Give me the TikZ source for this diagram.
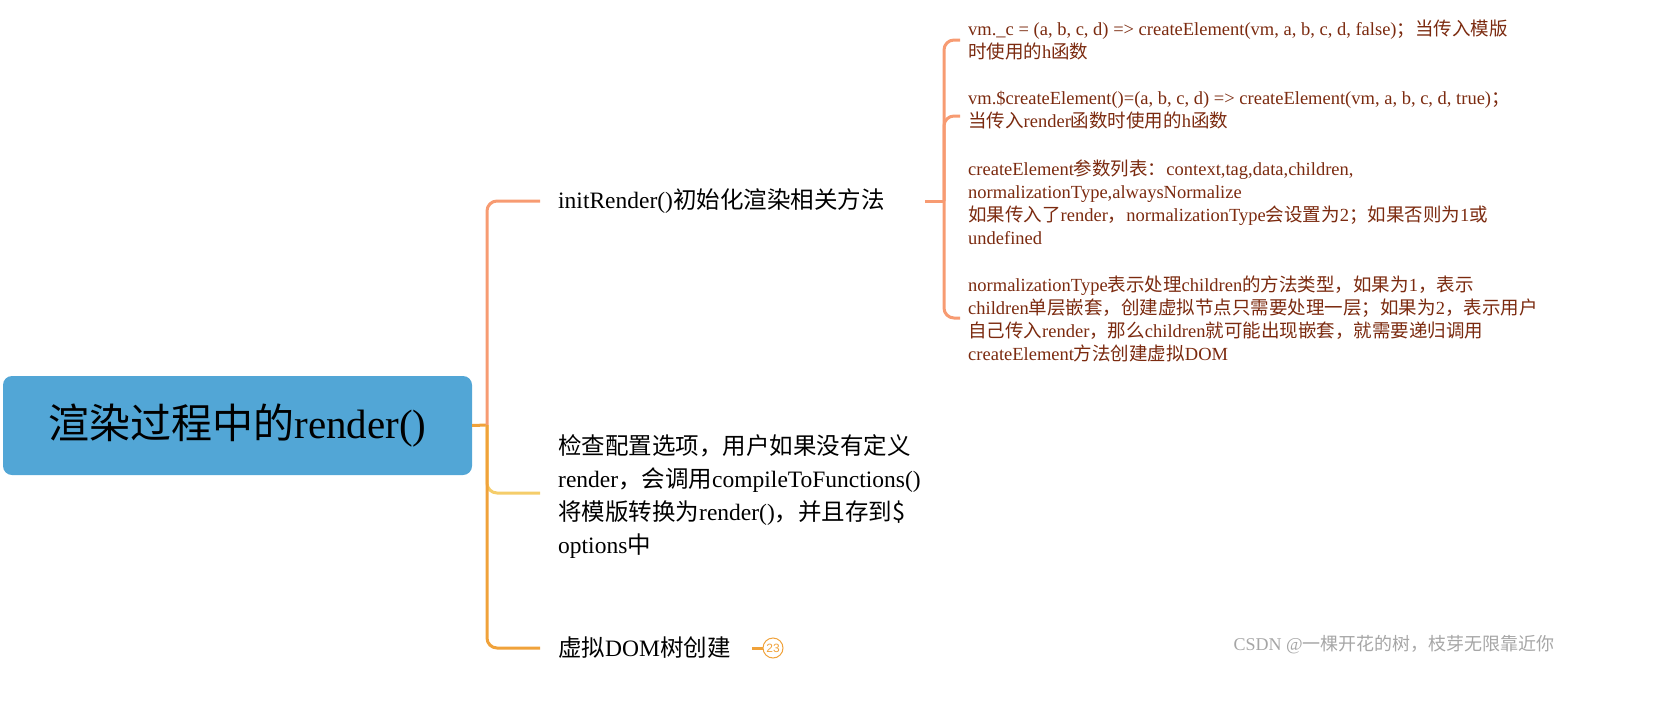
\documentclass[tikz,border=0pt]{standalone}
\usepackage{fontspec}
\setmainfont{Liberation Serif}
\newfontfamily\cjk{Noto Sans CJK SC}
\newfontfamily\latn{Liberation Serif}
\newfontfamily\sans{Liberation Sans}
\XeTeXinterchartokenstate=1
\newXeTeXintercharclass\cjkcls
\makeatletter
\count@="3000
\loop\ifnum\count@<"3040 \XeTeXcharclass\count@=\cjkcls \advance\count@ 1 \repeat
\count@="4E00
\loop\ifnum\count@<"A000 \XeTeXcharclass\count@=\cjkcls \advance\count@ 1 \repeat
\count@="FF00
\loop\ifnum\count@<"FFF0 \XeTeXcharclass\count@=\cjkcls \advance\count@ 1 \repeat
\makeatother
\XeTeXinterchartoks 0 \cjkcls {\cjk}
\XeTeXinterchartoks 4095 \cjkcls {\cjk}
\XeTeXinterchartoks \cjkcls 0 {\latn}
\usetikzlibrary{calc}
\definecolor{rootc}{HTML}{52A6D6}
\definecolor{salm}{HTML}{F79B72}
\definecolor{oran}{HTML}{F0A23A}
\definecolor{yell}{HTML}{F5CD6A}
\definecolor{dred}{HTML}{7B2A0F}
\tikzset{
 conn/.style={line width=3pt,rounded corners=10pt},
 child/.style={anchor=west,align=left,inner sep=0pt,font=\fontsize{23.5}{33}\selectfont},
 leaf/.style={anchor=west,align=left,inner sep=0pt,text=dred,font=\fontsize{18.5}{23}\selectfont},
}
\begin{document}
\begin{tikzpicture}[x=1pt,y=-1pt]
\useasboundingbox (0,0) rectangle (1676,712);
\node[fill=rootc,rounded corners=9pt,minimum width=469pt,minimum height=99pt,inner sep=0pt,font=\fontsize{41}{44}\selectfont] (root) at (237.5,425.5) {渲染过程中的render()};
\node[child] (c1) at (558,201) {initRender()初始化渲染相关方法};
\node[child] (c2) at (558,497) {检查配置选项，用户如果没有定义\\render，会调用compileToFunctions()\\将模版转换为render()，并且存到\$\\options中};
\node[child] (c3) at (558,648) {虚拟DOM树创建};
\coordinate (j) at (487,425);
\draw[conn,oran] (root.east) -- (j);
\draw[conn,salm] (j) |- (540,201);
\draw[conn,yell] (j) |- (540,493);
\draw[conn,oran] (j) |- (540,648);
\node[circle,draw=oran,line width=1pt,minimum size=20pt,inner sep=0pt,text=oran,font=\sans\fontsize{12}{12}\selectfont] (badge) at (773,648) {23};
\draw[oran,line width=3pt] (752,648) -- (badge.west);
\node[leaf] (l1) at (968,39.5) {vm.\_c = (a, b, c, d) => createElement(vm, a, b, c, d, false)；当传入模版\\时使用的h函数};
\node[leaf] (l2) at (968,110.5) {vm.\$createElement()=(a, b, c, d) => createElement(vm, a, b, c, d, true)；\\当传入render函数时使用的h函数};
\node[leaf] (l3) at (968,202.5) {createElement参数列表：context,tag,data,children,\\normalizationType,alwaysNormalize\\如果传入了render，normalizationType会设置为2；如果否则为1或\\undefined};
\node[leaf] (l4) at (968,318.5) {normalizationType表示处理children的方法类型，如果为1，表示\\children单层嵌套，创建虚拟节点只需要处理一层；如果为2，表示用户\\自己传入render，那么children就可能出现嵌套，就需要递归调用\\createElement方法创建虚拟DOM};
\coordinate (k) at (944,201);
\draw[conn,salm] (925,201) -- (k);
\draw[conn,salm] (960,40) -| (k) |- (960,318);
\draw[conn,salm] (k) |- (960,116);
\node[anchor=east,text=gray!70,inner sep=0pt,font=\fontsize{18}{18}\selectfont] (wm) at (1555,645) {CSDN @一棵开花的树，枝芽无限靠近你};
\end{tikzpicture}
\end{document}
